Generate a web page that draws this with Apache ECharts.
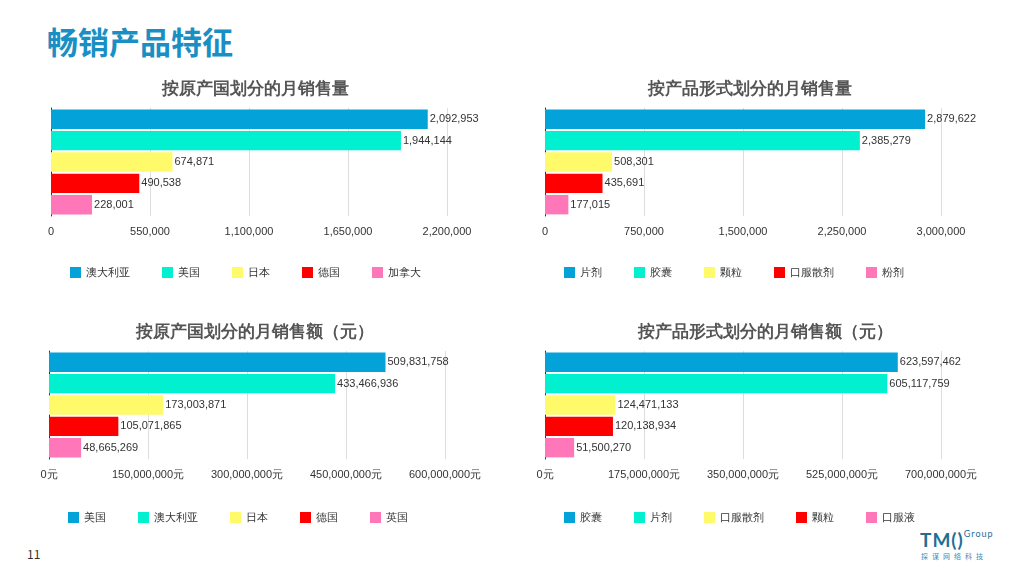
<!DOCTYPE html>
<html><head><meta charset="utf-8">
<script src="https://cdn.jsdelivr.net/npm/echarts@6/dist/echarts.min.js"></script>
<style>
body{margin:0;width:1024px;height:575px;background:#fff;position:relative;overflow:hidden;font-family:"Noto Sans CJK SC",sans-serif}
.c{position:absolute;width:512px;height:250px}
</style></head><body>
<div style="position:absolute;left:47px;top:18px;font-size:31px;font-weight:bold;color:#1a8fc4">畅销产品特征</div>
<div style="position:absolute;left:27px;top:545px;font-size:12px;color:#333">11</div>
<div style="position:absolute;left:920px;top:528px;color:#1f6f95;font-family:Lato;font-size:19px;font-weight:bold;letter-spacing:1px">TM()<span style="font-size:9px;font-weight:normal;vertical-align:top">Group</span></div>
<div style="position:absolute;left:921px;top:551px;color:#3a8ab5;font-size:7px;letter-spacing:4px">探谋网络科技</div>
<div id="c1" class="c" style="left:0;top:70px"></div>
<div id="c2" class="c" style="left:512px;top:70px"></div>
<div id="c3" class="c" style="left:0;top:313px"></div>
<div id="c4" class="c" style="left:512px;top:313px"></div>
<script>
const colors=['#03a2d9','#00f0d0','#fffa6a','#ff0000','#ff77b8'];
const t1='按原产国划分的月销售量', n1=['澳大利亚','美国','日本','德国','加拿大'], v1=[2092953,1944144,674871,490538,228001];
const t2='按产品形式划分的月销售量', n2=['片剂','胶囊','颗粒','口服散剂','粉剂'], v2=[2879622,2385279,508301,435691,177015];
const t3='按原产国划分的月销售额（元）', n3=['美国','澳大利亚','日本','德国','英国'], v3=[509831758,433466936,173003871,105071865,48665269];
const t4='按产品形式划分的月销售额（元）', n4=['胶囊','片剂','口服散剂','颗粒','口服液'], v4=[623597462,605117759,124471133,120138934,51500270];
function fmt(v){return v.toLocaleString('en-US');}
function make(id,title,names,vals,left,max,interval,unit,tx,legTop){
  const ch=echarts.init(document.getElementById(id));
  ch.setOption({
    animation:false,
    title:{text:title,left:tx,top:6,textAlign:'center',
      textStyle:{fontSize:17,fontWeight:'bold',color:'#555'}},
    grid:{left:left,width:396,top:38,height:108},
    xAxis:{type:'value',min:0,max:max,interval:interval,
      axisLabel:{color:'#333',fontSize:11,margin:10,formatter:v=>v===0?('0'+unit):fmt(v)+unit},
      splitLine:{lineStyle:{color:'#ddd'}},axisLine:{show:false},axisTick:{show:false}},
    yAxis:{type:'category',data:[''],inverse:true,axisLine:{lineStyle:{color:'#333'}},axisTick:{show:false}},
    legend:{top:legTop,left:left+14,itemGap:32,itemWidth:11,itemHeight:11,icon:'rect',
      textStyle:{fontSize:11,color:'#333'},data:names},
    series:names.map((n,i)=>({type:'bar',name:n,data:[vals[i]],itemStyle:{color:colors[i]},
      barGap:'10%',barCategoryGap:'3%',
      label:{show:true,position:'right',distance:2,color:'#333',fontSize:11,formatter:p=>fmt(p.value)}}))
  });
}
make('c1',t1,n1,v1,51,2200000,550000,'',250,192);
make('c2',t2,n2,v2,33,3000000,750000,'',233,192);
make('c3',t3,n3,v3,49,600000000,150000000,'元',250,194);
make('c4',t4,n4,v4,33,700000000,175000000,'元',248,194);
</script></body></html>
